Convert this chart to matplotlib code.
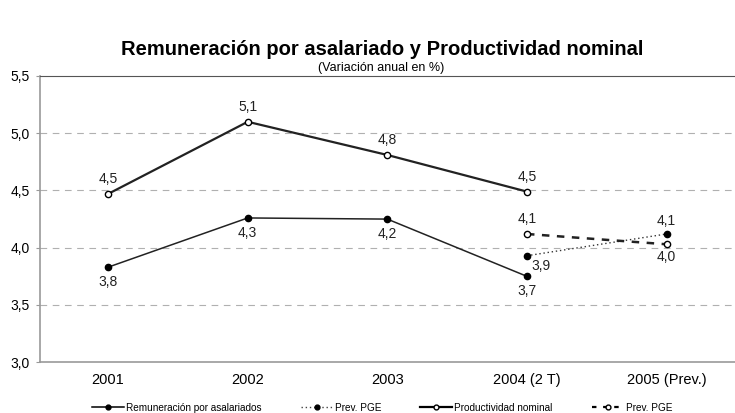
import matplotlib
matplotlib.use("Agg")
import matplotlib.pyplot as plt
from matplotlib.lines import Line2D

categories = ["2001", "2002", "2003", "2004 (2 T)", "2005 (Prev.)"]
remuneracion = [3.83, 4.26, 4.25, 3.75]
remuneracion_lbl = ["3,8", "4,3", "4,2", "3,7"]
productividad = [4.47, 5.10, 4.81, 4.49]
productividad_lbl = ["4,5", "5,1", "4,8", "4,5"]
prev_rem = [3.93, 4.12]
prev_rem_lbl = ["3,9", "4,1"]
prev_prod = [4.12, 4.03]
prev_prod_lbl = ["4,1", "4,0"]
yticks = [3.0, 3.5, 4.0, 4.5, 5.0, 5.5]
ytick_lbl = ["3,0", "3,5", "4,0", "4,5", "5,0", "5,5"]

plt.rcParams['font.family'] = ['Liberation Sans', 'DejaVu Sans']

fig = plt.figure(figsize=(7.35, 4.13), dpi=100)
ax = fig.add_axes([0.054, 0.123, 0.946, 0.693])

x = list(range(len(categories)))
xr = x[:4]
xp = x[3:5]

ax.plot(xp, prev_rem, color='#333333', lw=1.0, ls=(0, (1, 2)), marker='o', ms=4.5,
        mfc='black', mec='black')
ax.plot(xp, prev_prod, color='#222222', lw=1.8, ls=(0, (3, 3)), marker='o', ms=4.5,
        mfc='white', mec='black', mew=1)
ax.plot(xr, remuneracion, color='#222222', lw=1.1, marker='o', ms=4.5,
        mfc='black', mec='black')
ax.plot(xr, productividad, color='#222222', lw=1.6, marker='o', ms=4.5,
        mfc='white', mec='black', mew=1)

fs = 10
for i, (v, l) in enumerate(zip(productividad, productividad_lbl)):
    ax.text(xr[i], v + 0.07, l, ha='center', va='bottom', fontsize=fs, color='#222222')
for i, (v, l) in enumerate(zip(remuneracion, remuneracion_lbl)):
    ax.text(xr[i], v - 0.07, l, ha='center', va='top', fontsize=fs, color='#222222')
ax.text(xp[0] + 0.03, prev_rem[0] - 0.03, prev_rem_lbl[0], ha='left', va='top', fontsize=fs, color='#222222')
ax.text(xp[1], prev_rem[1] + 0.05, prev_rem_lbl[1], ha='center', va='bottom', fontsize=fs, color='#222222')
ax.text(xp[0], prev_prod[0] + 0.07, prev_prod_lbl[0], ha='center', va='bottom', fontsize=fs, color='#222222')
ax.text(xp[1], prev_prod[1] - 0.05, prev_prod_lbl[1], ha='center', va='top', fontsize=fs, color='#222222')

ax.set_xlim(-0.49, 4.49)
ax.set_ylim(3.0, 5.5)
ax.set_yticks(yticks)
ax.set_yticklabels(ytick_lbl, fontsize=10)
ax.set_xticks(x)
ax.set_xticklabels(categories, fontsize=10.5)
ax.tick_params(axis='x', length=0, pad=8)
ax.tick_params(axis='y', length=3, color='#999999', pad=4)
for yv in yticks[1:5]:
    ax.axhline(yv, color='#b0b0b0', lw=0.8, ls=(0, (6, 5)), zorder=0)
ax.spines['right'].set_visible(False)
ax.spines['top'].set_color('#555555')
ax.spines['top'].set_linestyle((0, (1, 1)))
ax.spines['top'].set_linewidth(0.8)
ax.spines['left'].set_color('#999999')
ax.spines['bottom'].set_color('#999999')
ax.spines['left'].set_linewidth(1.2)
ax.spines['bottom'].set_linewidth(1.2)

fig.text(0.52, 0.88, "Remuneración por asalariado y Productividad nominal",
         ha='center', va='center', fontsize=14.5, fontweight='bold')
fig.text(0.518, 0.836, "(Variación anual en %)", ha='center', va='center', fontsize=9)

handles = [
    Line2D([], [], color='black', lw=1.1, marker='o', ms=3.5, mfc='black'),
    Line2D([], [], color='#444444', lw=1.0, ls=(0, (1, 2)), marker='o', ms=3.5, mfc='black', mec='black'),
    Line2D([], [], color='black', lw=1.6, marker='o', ms=3.5, mfc='white', mec='black'),
    Line2D([], [], color='black', lw=1.6, ls=(0, (2, 3)), marker='o', ms=3.5, mfc='white', mec='black'),
]
labels = ["Remuneración por asalariados", "Prev. PGE", "Productividad nominal", "Prev. PGE"]
fig.legend(handles, labels, loc='center', bbox_to_anchor=(0.52, 0.013), ncol=4,
           frameon=False, fontsize=7.2, handlelength=3.2, columnspacing=3.9, handletextpad=0.2)

fig.savefig("out.png", dpi=100)
